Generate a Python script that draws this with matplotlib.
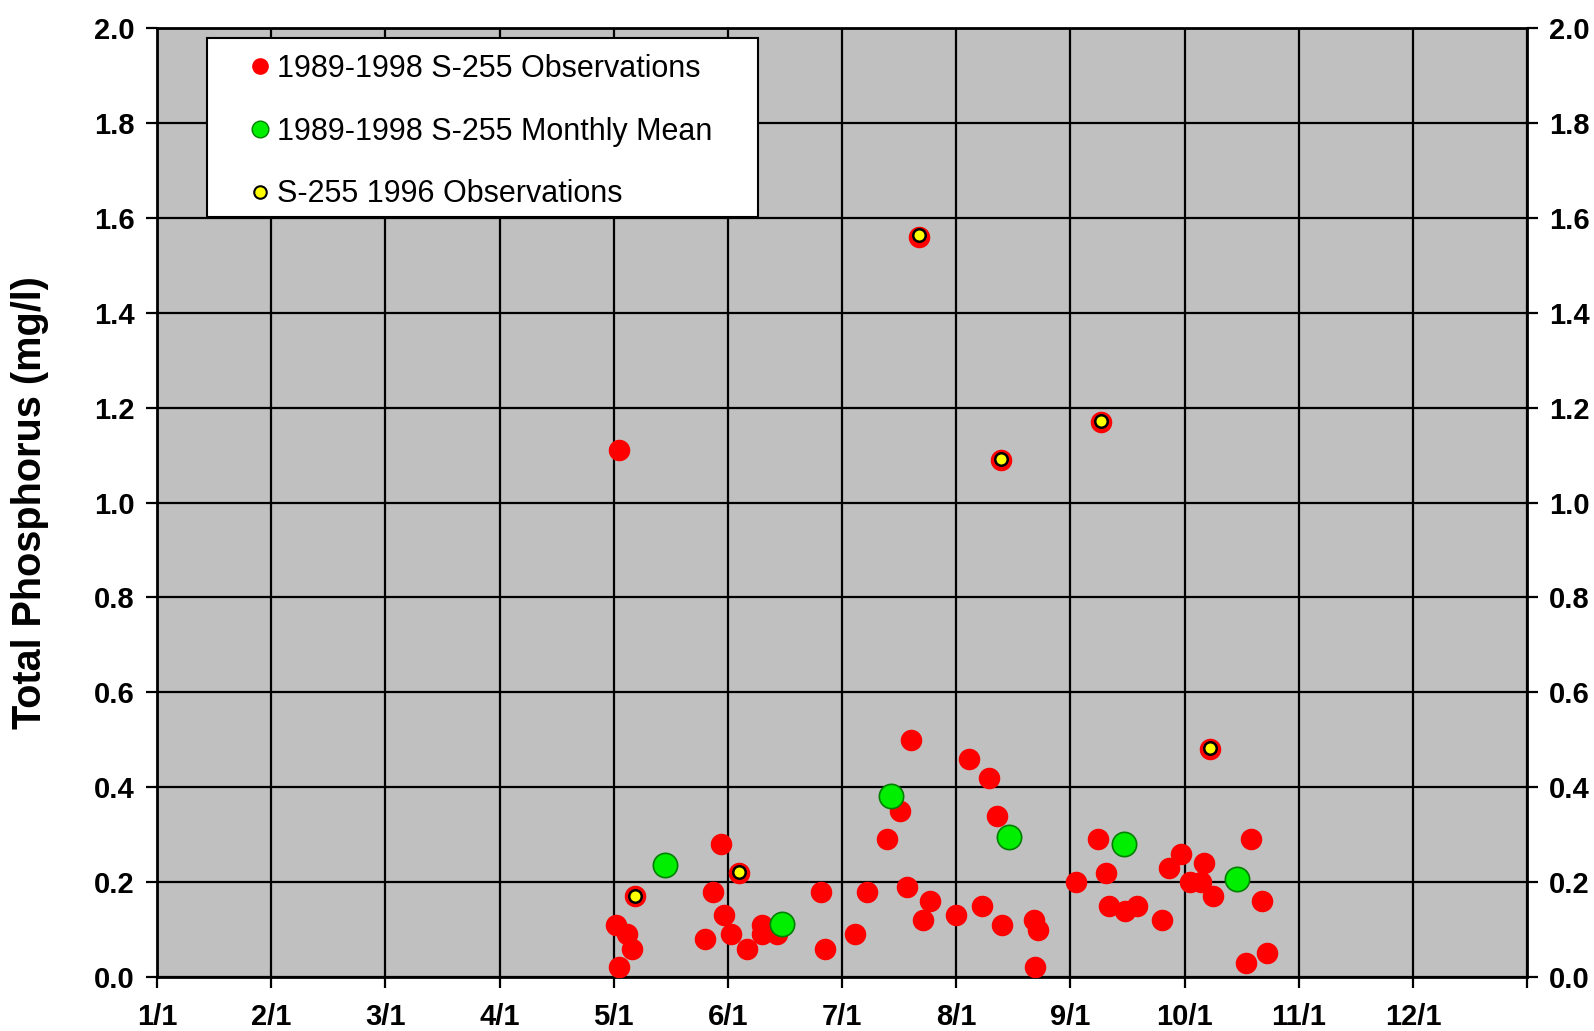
import matplotlib.pyplot as plt
from matplotlib.lines import Line2D
from matplotlib.patches import Rectangle

plt.rcParams['font.family'] = ['Liberation Sans', 'DejaVu Sans']

# x positions in months since 1/1 (axis has evenly spaced months)
obs_x = [4.05, 4.02, 4.12, 4.16, 4.05, 4.19, 4.94, 4.87, 4.97, 5.03, 4.80, 5.10,
         5.17, 5.30, 5.30, 5.43, 5.82, 5.85, 6.11, 6.22, 6.39, 6.51, 6.60, 6.57,
         6.77, 6.71, 6.67, 7.00, 7.11, 7.29, 7.36, 7.23, 7.40, 7.39, 7.68, 7.72,
         7.69, 8.05, 8.24, 8.27, 8.31, 8.34, 8.48, 8.58, 8.80, 8.86, 8.97, 9.05,
         9.14, 9.17, 9.22, 9.25, 9.54, 9.58, 9.68, 9.72]
obs_y = [1.11, 0.11, 0.09, 0.06, 0.02, 0.17, 0.28, 0.18, 0.13, 0.09, 0.08, 0.22,
         0.06, 0.11, 0.09, 0.09, 0.18, 0.06, 0.09, 0.18, 0.29, 0.35, 0.50, 0.19,
         0.16, 0.12, 1.56, 0.13, 0.46, 0.42, 0.34, 0.15, 0.11, 1.09, 0.12, 0.10,
         0.02, 0.20, 0.29, 1.17, 0.22, 0.15, 0.14, 0.15, 0.12, 0.23, 0.26, 0.20,
         0.20, 0.24, 0.48, 0.17, 0.03, 0.29, 0.16, 0.05]

mean_x = [4.45, 5.47, 6.43, 7.46, 8.47, 9.46]
mean_y = [0.236, 0.111, 0.381, 0.296, 0.280, 0.207]

y96_x = [4.19, 5.10, 6.67, 7.39, 8.27, 9.22]
y96_y = [0.171, 0.221, 1.563, 1.092, 1.171, 0.482]

month_labels = ['1/1', '2/1', '3/1', '4/1', '5/1', '6/1', '7/1', '8/1',
                '9/1', '10/1', '11/1', '12/1']
labels = ['1989-1998 S-255 Observations', '1989-1998 S-255 Monthly Mean',
          'S-255 1996 Observations']

fig = plt.figure(figsize=(15.94, 10.31), dpi=100)
ax = fig.add_axes([0.0985, 0.0524, 0.8595, 0.9204])
ax.set_facecolor('#C0C0C0')

ax.plot(obs_x, obs_y, 'o', color='#FF0000', ms=14.5, mec='#FF0000', zorder=3)
ax.plot(mean_x, mean_y, 'o', color='#00EE00', ms=17.5, mec='#008000', mew=1.2, zorder=4)
ax.plot(y96_x, y96_y, 'o', color='#FFFF00', ms=9, mec='black', mew=1.8, zorder=5)

ax.set_xlim(0, 12)
ax.set_ylim(0, 2.0)
ax.set_xticks(range(13))
ax.set_xticklabels(month_labels + [''])
ax.set_yticks([i * 0.2 for i in range(11)])
ax.set_yticklabels(['%.1f' % (i * 0.2) for i in range(11)])
ax.grid(True, color='black', lw=1.6)
ax.set_axisbelow(True)
for s in ax.spines.values():
    s.set_linewidth(2)

ax.tick_params(axis='both', direction='out', length=8, width=1.6, labelsize=21, pad=8)
ax.tick_params(axis='x', pad=11)
ax.tick_params(axis='y', right=True, labelright=True)
for lab in ax.get_xticklabels() + ax.get_yticklabels():
    lab.set_fontweight('bold')
ax.set_ylabel('Total Phosphorus (mg/l)', fontsize=28.5, fontweight='bold')
ax.yaxis.set_label_coords(-0.079, 0.5)

# legend box drawn separately so the padding matches
ax.add_patch(Rectangle((0.0365, 0.8008), 0.4022, 0.1887, transform=ax.transAxes,
                       facecolor='white', edgecolor='black', lw=1.5, zorder=9))
handles = [
    Line2D([], [], ls='', marker='o', color='#FF0000', ms=11),
    Line2D([], [], ls='', marker='o', color='#00EE00', mec='#008000', ms=12),
    Line2D([], [], ls='', marker='o', color='#FFFF00', mec='black', mew=1.5, ms=9),
]
leg = ax.legend(handles, labels, loc='upper left', bbox_to_anchor=(0.064, 0.9726),
                fontsize=22, frameon=False, handlelength=1.0, handletextpad=0.07,
                labelspacing=1.07, borderpad=0, borderaxespad=0)
leg.set_zorder(10)

fig.savefig('out.png', dpi=100)
